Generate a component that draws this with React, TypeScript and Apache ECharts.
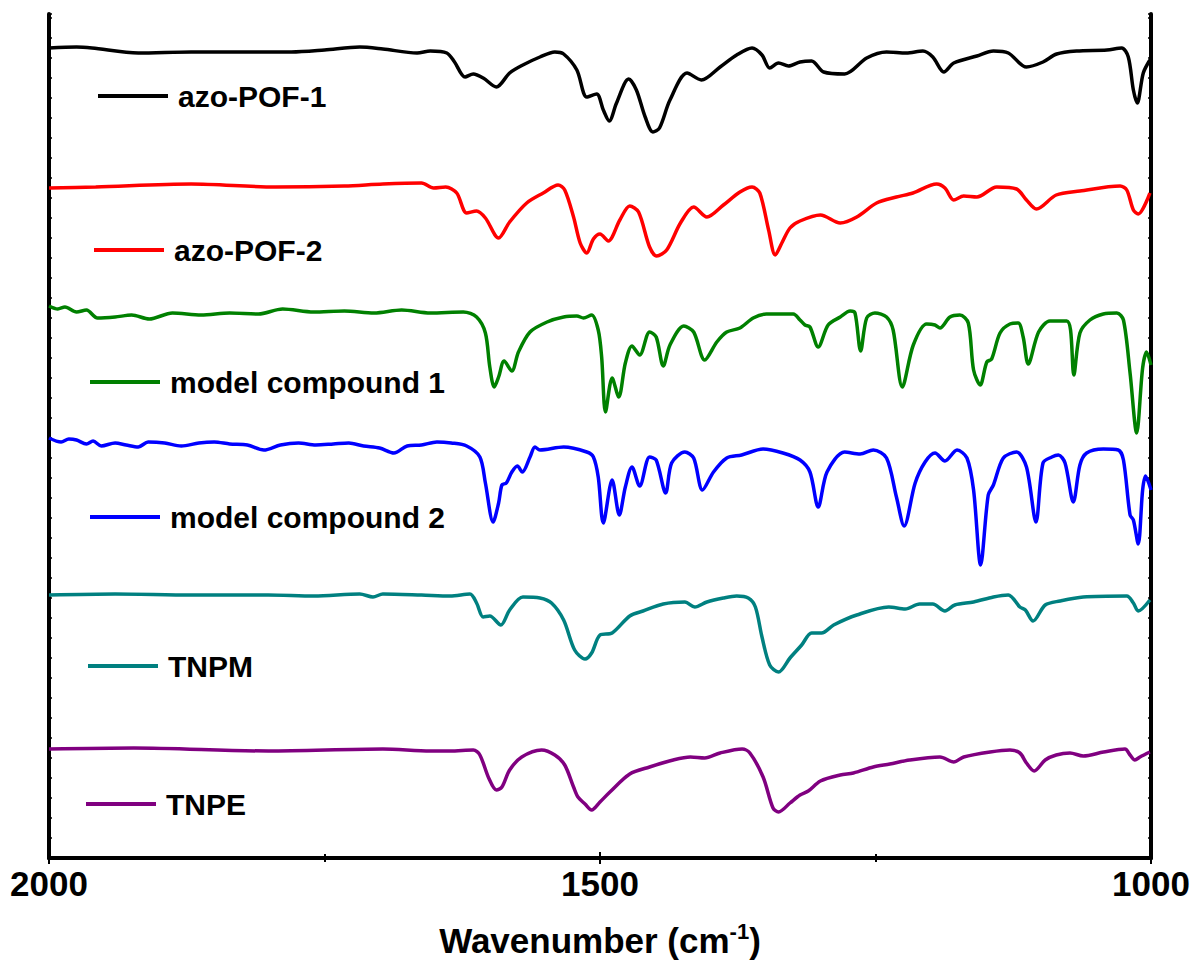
import React, { useEffect, useRef } from "react";
import * as echarts from "echarts";

// IR spectra, wavenumber (cm-1) vs transmittance (a.u., stacked with offsets)
const seriesNames = ["azo-POF-1", "azo-POF-2", "model compound 1", "model compound 2", "TNPM", "TNPE"];
const seriesColors = ["#000000", "#ff0000", "#008000", "#0000ff", "#008080", "#800080"];

const azoPOF1: number[][] = [
  [2000, 81.0], [1975, 81.1], [1961, 81.0], [1919, 80.5], [1871, 80.6], [1780, 80.6], [1750, 80.8],
  [1718, 81.1], [1697, 80.9], [1666, 80.5], [1654, 80.7], [1639, 80.5], [1632, 79.6], [1622.5, 78.1],
  [1615, 78.4], [1606, 78.0], [1594, 77.1], [1582, 78.5], [1570, 79.3], [1554.5, 80.1], [1541, 80.6],
  [1533, 80.4], [1521, 78.8], [1512, 76.1], [1503, 76.4], [1497, 74.8], [1491.6, 73.7], [1485, 75.5],
  [1474, 77.9], [1467, 76.8], [1459, 74.1], [1452, 72.6], [1446, 73.0], [1436.5, 75.8], [1421, 78.5],
  [1408, 77.8], [1391, 79.1], [1376, 80.3], [1362, 81.0], [1353, 80.3], [1346, 79.0], [1338, 79.5],
  [1329, 79.2], [1318.5, 79.6], [1308, 79.7], [1297, 78.6], [1278, 78.4], [1258, 80.0], [1240, 80.6],
  [1222, 80.5], [1207, 80.7], [1198, 80.1], [1188, 78.6], [1179, 79.5], [1158, 80.2], [1143, 80.7],
  [1129.5, 80.5], [1113, 79.1], [1098, 79.6], [1085.6, 80.4], [1067.5, 80.7], [1040, 80.8],
  [1026.6, 81.0], [1020.6, 80.1], [1016, 76.8], [1012.5, 75.5], [1007, 78.5], [1001, 79.8],
];

const azoPOF2: number[][] = [
  [2000, 67.0], [1957.6, 67.1], [1871, 67.4], [1794.5, 67.1], [1732, 67.2], [1697, 67.4], [1662, 67.5],
  [1651, 67.0], [1640, 67.1], [1630, 66.5], [1621, 64.5], [1612, 64.7], [1604, 64.0], [1592, 62.0],
  [1582, 63.6], [1566.5, 65.5], [1551.5, 66.5], [1538, 67.3], [1532, 66.8], [1524, 64.1], [1518, 61.5],
  [1512, 60.5], [1506, 61.9], [1500, 62.4], [1492.5, 61.7], [1482, 63.8], [1473, 65.2], [1465, 64.6],
  [1455, 61.1], [1448.6, 60.2], [1439.5, 60.8], [1427, 63.5], [1415, 65.1], [1403, 64.1], [1388, 65.3],
  [1373, 66.6], [1362, 67.1], [1355, 66.5], [1347, 62.8], [1341, 60.3], [1335, 61.5], [1327.6, 63.0],
  [1318.5, 63.7], [1300, 64.3], [1282, 63.5], [1267, 64.1], [1249, 65.5], [1231, 66.1], [1216, 66.5],
  [1194.5, 67.4], [1187, 67.0], [1179, 65.8], [1170, 66.2], [1158, 66.1], [1140, 67.1], [1122, 66.9],
  [1113, 65.8], [1104, 64.9], [1086, 66.3], [1064.5, 66.7], [1028, 67.2], [1022, 66.8], [1016, 64.8],
  [1011.6, 64.4], [1001, 66.5],
];

const modelCompound1: number[][] = [
  [2000, 55.2], [1992, 54.9], [1985.5, 55.1], [1975, 54.6], [1966, 54.8], [1956, 54.0], [1940, 54.1],
  [1925, 54.3], [1909, 53.9], [1888, 54.5], [1862, 54.3], [1836, 54.5], [1810, 54.4], [1788, 54.9],
  [1760, 54.6], [1732, 54.7], [1705, 54.5], [1680, 54.8], [1654, 54.5], [1624, 54.6], [1612, 54.1],
  [1604, 52.5], [1600, 49.1], [1596, 47.1], [1592, 48.1], [1587, 49.7], [1580, 48.7], [1574, 50.6],
  [1563.5, 52.6], [1548, 53.6], [1533, 54.1], [1521, 54.2], [1515, 54.0], [1507.6, 54.3], [1501.6, 52.8],
  [1498.5, 50.1], [1495, 44.6], [1489, 48.0], [1483, 46.1], [1477, 49.5], [1471, 51.2], [1464, 50.3],
  [1455, 52.6], [1449, 52.1], [1442.6, 49.2], [1436.5, 51.3], [1424, 53.2], [1415, 52.6], [1405, 49.8],
  [1394, 51.6], [1385, 52.6], [1373, 53.0], [1361, 54.0], [1349, 54.4], [1324.6, 54.4], [1318.5, 53.8],
  [1314, 53.3], [1309.5, 53.1], [1302, 51.1], [1293, 53.3], [1282, 54.1], [1273, 54.7], [1268.6, 54.5],
  [1263.5, 50.7], [1258, 54.0], [1250.5, 54.5], [1240, 54.1], [1234, 52.8], [1225.7, 47.1], [1215.7, 51.3],
  [1203.6, 53.4], [1196, 53.3], [1191.5, 53.0], [1182.4, 54.1], [1173.4, 54.3], [1165.8, 53.5],
  [1161, 48.8], [1155, 47.3], [1149, 49.6], [1144.6, 49.9], [1137, 52.5], [1128, 53.4], [1120.5, 53.5],
  [1116, 52.1], [1111.4, 49.4], [1102, 52.6], [1091.7, 53.7], [1076.5, 53.7], [1073, 52.8], [1070, 48.3],
  [1064.5, 52.5], [1055.4, 53.8], [1043.3, 54.4], [1031, 54.5], [1025, 53.8], [1019, 48.5], [1013, 42.5],
  [1007.6, 49.0], [1004, 50.6], [1000, 49.3],
];

const modelCompound2: number[][] = [
  [2000, 42.0], [1989, 41.6], [1982, 41.9], [1975, 41.8], [1966, 41.4], [1960, 41.7], [1952.5, 41.2],
  [1940, 41.5], [1930, 41.3], [1919, 41.1], [1910, 41.6], [1895, 41.5], [1880, 41.2], [1864, 41.5],
  [1850, 41.6], [1836, 41.4], [1820, 41.3], [1805, 40.8], [1790, 41.3], [1773.6, 41.5], [1758, 41.3],
  [1742, 41.4], [1728, 41.5], [1714.5, 41.2], [1700, 41.0], [1687, 40.5], [1675, 41.2], [1662, 41.3],
  [1648, 41.6], [1635, 41.5], [1621, 41.2], [1609, 40.1], [1604, 37.5], [1597, 33.6], [1592, 35.5],
  [1589, 37.3], [1585, 37.5], [1580, 38.6], [1575, 39.2], [1570.5, 38.6], [1563.5, 40.1], [1559, 41.1],
  [1554.5, 40.8], [1533, 41.1], [1512, 40.6], [1506, 40.1], [1501.6, 38.1], [1497, 33.5], [1489, 37.8],
  [1482.5, 34.3], [1477, 37.1], [1471, 39.1], [1464, 37.2], [1455, 40.1], [1449, 39.8], [1440.4, 36.5],
  [1435, 39.5], [1423, 40.6], [1415, 40.0], [1407, 36.8], [1397, 38.6], [1385, 40.0], [1371.5, 40.3],
  [1352, 40.9], [1334, 40.5], [1318.5, 39.8], [1309.5, 38.6], [1302, 35.1], [1294, 38.6], [1278, 40.6],
  [1264, 40.4], [1252, 40.8], [1240, 40.0], [1231, 36.1], [1224, 33.2], [1214, 37.5], [1205, 39.6],
  [1196, 40.5], [1187, 39.7], [1176, 40.8], [1167, 40.0], [1161, 36.8], [1154.6, 29.3], [1147.7, 36.3],
  [1143, 37.3], [1134, 40.0], [1122, 40.6], [1113, 39.1], [1104.4, 33.6], [1098, 39.5], [1090, 40.1],
  [1084, 40.3], [1078, 39.5], [1070.5, 35.6], [1064.5, 39.3], [1058.4, 40.5], [1043.3, 40.9],
  [1029.7, 40.8], [1025, 39.8], [1019, 34.3], [1016, 33.8], [1011.6, 31.4], [1007.6, 36.8], [1005, 38.2],
  [1000, 36.8],
];

const tnpm: number[][] = [
  [2000, 26.3], [1940, 26.4], [1871, 26.3], [1801, 26.3], [1759.5, 26.2], [1718, 26.4], [1706, 26.1],
  [1697, 26.4], [1662, 26.3], [1636, 26.2], [1618, 26.4], [1612, 25.5], [1606, 24.1], [1600, 24.2],
  [1590, 23.3], [1582, 24.8], [1570, 26.1], [1554.5, 26.0], [1544, 25.5], [1533, 23.8], [1523, 20.8],
  [1513.6, 19.9], [1507.6, 20.5], [1500, 22.3], [1489, 22.5], [1473, 24.2], [1461, 24.7], [1442.6, 25.4],
  [1423, 25.6], [1414, 25.1], [1403, 25.6], [1388, 26.0], [1376, 26.2], [1365.5, 26.0], [1359, 25.1],
  [1353, 22.1], [1346, 19.3], [1338, 18.6], [1327.6, 20.0], [1317, 21.3], [1308, 22.5], [1299, 22.5],
  [1288, 23.3], [1267, 24.3], [1238, 25.1], [1223, 24.9], [1210, 25.4], [1198, 25.4], [1187, 24.7],
  [1178, 25.3], [1161, 25.6], [1143, 26.1], [1129.5, 26.3], [1119, 25.1], [1114, 24.8], [1107, 23.7],
  [1096, 25.3], [1082.6, 25.7], [1061.5, 26.1], [1022, 26.2], [1016, 25.5], [1011.6, 24.7], [1001, 25.8],
];

const tnpe: number[][] = [
  [2000, 10.9], [1923, 11.0], [1801, 10.7], [1697, 10.9], [1654, 10.7], [1636, 10.7], [1615, 10.8],
  [1609, 10.3], [1601, 8.0], [1594, 6.8], [1589, 7.1], [1582, 8.8], [1571, 10.1], [1553, 10.8],
  [1541, 10.3], [1532, 9.3], [1524, 7.1], [1520, 6.1], [1513.6, 5.4], [1507.6, 4.8], [1500, 5.6],
  [1491, 6.6], [1473, 8.4], [1455, 9.1], [1433.5, 9.8], [1418, 10.1], [1405, 10.0], [1391, 10.5],
  [1371, 10.9], [1364, 10.5], [1352, 8.1], [1343, 5.0], [1338, 4.6], [1327.6, 5.5], [1318.5, 6.3],
  [1311, 6.7], [1300, 7.7], [1282, 8.3], [1270, 8.5], [1252, 9.1], [1237, 9.4], [1219, 9.8],
  [1191.5, 10.1], [1179, 9.6], [1170, 10.1], [1146, 10.6], [1128, 10.8], [1119, 10.5], [1113, 9.5],
  [1106, 8.7], [1096, 9.8], [1086, 10.3], [1073.5, 10.5], [1061.5, 10.2], [1043, 10.6], [1023.6, 10.9],
  [1019, 10.3], [1014.6, 9.8], [1010, 10.1], [1001, 10.6],
];

const seriesData = [azoPOF1, azoPOF2, modelCompound1, modelCompound2, tnpm, tnpe];
const xTicks = [2000, 1500, 1000];

// legend layout (px)
const legendLeft = [98, 94, 90, 90, 88, 86];
const legendLineY = [96, 250, 382, 517, 666, 804];

const FONT = "'Liberation Sans', Arial, Helvetica, sans-serif";

export default function App() {
  const ref = useRef<HTMLDivElement>(null);
  useEffect(() => {
    if (!ref.current) return;
    const chart = echarts.init(ref.current, undefined, { renderer: "svg" });
    const axisCommon = {
      type: "value" as const,
      min: 1000,
      max: 2000,
      interval: 500,
      inverse: true,
      splitLine: { show: false },
      axisLine: { show: true, lineStyle: { color: "#000", width: 4 } },
      axisTick: { show: true, inside: true, length: 6, lineStyle: { color: "#000", width: 2 } },
      minorTick: { show: true, splitNumber: 2, length: 4, lineStyle: { color: "#000", width: 2 } },
    };
    const yCommon = {
      type: "value" as const,
      min: 0,
      max: 84.4,
      interval: 2,
      splitLine: { show: false },
      axisLabel: { show: false },
      axisLine: { show: true, lineStyle: { color: "#000", width: 4 } },
      axisTick: { show: true, inside: true, length: 3, lineStyle: { color: "#000", width: 1.5 } },
    };
    chart.setOption({
      animation: false,
      backgroundColor: "#ffffff",
      grid: { left: 49, right: 45, top: 14, bottom: 111, containLabel: false },
      xAxis: [
        {
          ...axisCommon,
          position: "bottom",
          axisLabel: {
            show: true,
            color: "#000",
            fontSize: 35,
            fontWeight: "bold",
            fontFamily: FONT,
            margin: 8,
            formatter: (v: number) => (xTicks.includes(v) ? String(v) : ""),
          },
          name: "{t|Wavenumber (cm}{s|-1}{t|)}",
          nameLocation: "middle",
          nameGap: 62,
          nameTextStyle: {
            rich: {
              t: { fontSize: 35, fontWeight: "bold", fontFamily: FONT, color: "#000", lineHeight: 40 },
              s: { fontSize: 22, fontWeight: "bold", fontFamily: FONT, color: "#000", verticalAlign: "top", lineHeight: 40 },
            },
          },
        },
        {
          ...axisCommon,
          position: "top",
          axisLabel: { show: false },
        },
      ],
      yAxis: [
        { ...yCommon, position: "left" },
        { ...yCommon, position: "right" },
      ],
      legend: seriesNames.map((n, i) => ({
        data: [n],
        left: legendLeft[i],
        top: legendLineY[i] - 15,
        padding: 0,
        itemWidth: 70,
        itemHeight: 4,
        icon: "rect",
        selectedMode: false,
        textStyle: {
          fontSize: 30,
          fontWeight: "bold",
          fontFamily: FONT,
          color: "#000",
          lineHeight: 30,
          padding: [0, 0, 0, 5],
        },
      })),
      series: seriesNames.map((n, i) => ({
        name: n,
        type: "line",
        data: seriesData[i],
        showSymbol: false,
        symbol: "none",
        smooth: 0.3,
        color: seriesColors[i],
        lineStyle: { color: seriesColors[i], width: 3.5 },
        xAxisIndex: 0,
        yAxisIndex: 0,
      })),
    });
    return () => chart.dispose();
  }, []);
  return (
    <div
      ref={ref}
      style={{ position: "absolute", left: 0, top: 0, width: 1196, height: 969, background: "#fff" }}
    />
  );
}
